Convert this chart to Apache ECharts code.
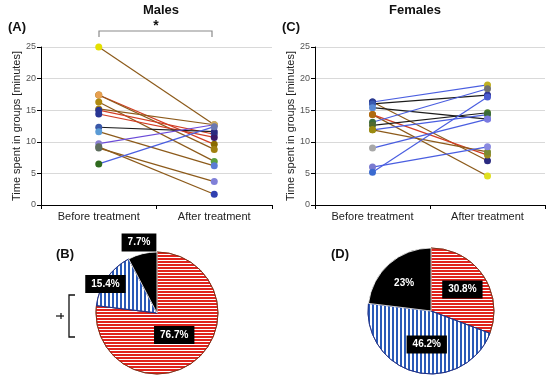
<!DOCTYPE html>
<html><head><meta charset="utf-8">
<script src="https://cdn.jsdelivr.net/npm/echarts@6/dist/echarts.min.js"></script>
<style>html,body{margin:0;padding:0;background:#fff}#c{width:550px;height:378px}</style>
</head><body><div id="c"></div>
<script>
// ---------- data ----------
const categories = ['Before treatment', 'After treatment'];
const yMin = 0, yMax = 25, yStep = 5;

const maleBefore = [25, 17.4, 17.4, 16.3, 15.2, 15.0, 14.4, 12.3, 11.6, 9.7, 9.0, 9.2, 6.5];
const maleAfter  = [12.7, 9.6, 8.8, 6.9, 12.7, 11.2, 10.7, 11.6, 6.2, 12.7, 3.7, 1.7, 12.4];

const femaleBefore = [16.3, 16.3, 16.0, 15.4, 14.3, 14.3, 13.1, 12.6, 11.9, 11.9, 9.0, 6.0, 5.2];
const femaleAfter  = [19.0, 7.0, 17.4, 13.6, 4.6, 7.9, 18.4, 14.6, 8.4, 14.3, 13.6, 9.2, 17.1];

const pieCategories = ['Decreased', 'Increased', 'Unchanged'];
const malePie = [10, 2, 1];
const malePieLabels = ['76.7%', '15.4%', '7.7%'];
const femalePie = [4, 6, 3];
const femalePieLabels = ['30.8%', '46.2%', '23%'];

// ---------- styles ----------
const LC = {brown:'#8c5a1a', red:'#d23c22', black:'#1c1c1c', blue:'#4a5ee0', purple:'#6a4ad8'};
const maleLine = ['brown','red','brown','brown','brown','red','red','black','brown','purple','brown','brown','blue'];
const maleC0 = ['#e4e000','#7a5a00','#e8a050','#b08a10','#b08a10','#283593','#283593','#3a58a8','#5b9bd5','#8a80d0','#5e6e5e','#5e6e5e','#2f6a1e'];
const maleC1 = ['#c8a860','#8a6a00','#a08010','#5aa040','#c8a860','#4a5a9a','#3a1a6a','#2a2a80','#5b7bd5','#c8a860','#8080d8','#3040b0','#6a78b0'];
const femaleLine = ['blue','brown','black','black','brown','red','blue','black','brown','blue','blue','blue','blue'];
const femaleC0 = ['#2a3a90','#2a3a90','#3a5ab0','#5b8ad5','#b06a10','#b06a10','#3a6a3a','#506a30','#9a8a10','#9a8a10','#a8a8a8','#7a7ad0','#3a6ad0'];
const femaleC1 = ['#c0b020','#2a2a80','#2a3090','#7a7ae0','#e0e020','#9a8a20','#707070','#4a7a2a','#7a8a30','#3a6a3a','#7a7ae0','#8a8ae0','#4a5ad0'];

const FF = '"Liberation Sans", Arial, sans-serif';

function makeAxes(gi) {
  return {
    x: {
      type: 'category', gridIndex: gi, data: categories, boundaryGap: true,
      axisLine: {lineStyle: {color: '#000', width: 1}},
      axisTick: {show: true, length: 4, lineStyle: {color: '#000'}},
      axisLabel: {color: '#222', fontSize: 11, fontFamily: FF, margin: 6}
    },
    y: {
      type: 'value', gridIndex: gi, min: yMin, max: yMax, interval: yStep,
      name: 'Time spent in groups [minutes]', nameLocation: 'middle', nameGap: 18,
      nameTextStyle: {color: '#222', fontSize: 11, fontFamily: FF},
      axisLine: {show: true, lineStyle: {color: '#000', width: 1}},
      axisTick: {show: true, length: 4, lineStyle: {color: '#000'}},
      axisLabel: {color: '#555', fontSize: 9, fontFamily: FF, margin: 5},
      splitLine: {show: true, lineStyle: {color: '#d9d9d9', width: 1}}
    }
  };
}
const a0 = makeAxes(0), a1 = makeAxes(1);

function lineSeries(before, after, kinds, c0, c1, gi) {
  return before.map((b, i) => ({
    type: 'line', xAxisIndex: gi, yAxisIndex: gi,
    data: [b, after[i]],
    symbol: 'circle', symbolSize: 7, silent: true, animation: false,
    lineStyle: {color: LC[kinds[i]], width: 1.2},
    itemStyle: {color: (p) => p.dataIndex === 0 ? c0[i] : c1[i], borderWidth: 0}
  }));
}

const redStyle = {color: '#fff', borderColor: '#7a2a10', borderWidth: 0.8,
  decal: {symbol: 'rect', symbolSize: 1, dashArrayX: [1, 0], dashArrayY: [2, 1], color: '#e0231c'}};
const blueStyle = {color: '#fff', borderColor: '#1a2a80', borderWidth: 0.8,
  decal: {symbol: 'rect', symbolSize: 1, dashArrayX: [1.6, 1.2], dashArrayY: [1, 0], color: '#2a5ab8'}};
const blackStyle = {color: '#000', borderColor: '#fff', borderWidth: 0.8};
const sliceStyles = [redStyle, blueStyle, blackStyle];

const labelBox = {show: true, position: 'inside', color: '#fff', fontWeight: 'bold', fontSize: 10,
  fontFamily: FF, backgroundColor: '#000', padding: [4, 6]};

const maleOffsets = [[-5, -3], [-24, -10], [-10, -38]];
const femaleOffsets = [[3, -2], [4, 0], [-4, -2]];

function pieSeries(vals, labels, center, r, offsets) {
  return {
    type: 'pie', center: center, radius: r, startAngle: 90, clockwise: true,
    silent: true, animation: false, labelLine: {show: false},
    data: vals.map((v, i) => ({
      name: pieCategories[i], value: v,
      itemStyle: sliceStyles[i],
      label: Object.assign({}, labelBox, {formatter: labels[i], offset: offsets[i]})
    }))
  };
}

const titleStyle = {fontSize: 13, fontWeight: 'bold', color: '#111', fontFamily: FF};
const option = {
  backgroundColor: '#fff',
  animation: false,
  title: [
    {text: 'Males', left: 156, top: -1, textAlign: 'center', textStyle: titleStyle},
    {text: 'Females', left: 410, top: -1, textAlign: 'center', textStyle: titleStyle},
    {text: '(A)', left: 3, top: 16, textStyle: titleStyle},
    {text: '(C)', left: 277, top: 16, textStyle: titleStyle},
    {text: '(B)', left: 51, top: 243, textStyle: titleStyle},
    {text: '(D)', left: 326, top: 243, textStyle: titleStyle}
  ],
  grid: [
    {left: 41, right: 278, top: 47, bottom: 173},
    {left: 315, right: 5, top: 47, bottom: 173}
  ],
  xAxis: [a0.x, a1.x],
  yAxis: [a0.y, a1.y],
  graphic: [
    {type: 'polyline', shape: {points: [[99, 37], [99, 31], [212, 31], [212, 37]]}, style: {stroke: '#8a8a8a', lineWidth: 1.2, fill: null}},
    {type: 'text', x: 156, y: 26, style: {text: '*', fill: '#111', align: 'center', verticalAlign: 'middle', font: 'bold 14px ' + FF}},
    {type: 'polyline', shape: {points: [[75, 295], [69, 295], [69, 337], [75, 337]]}, style: {stroke: '#111', lineWidth: 1.3, fill: null}},
    {type: 'line', shape: {x1: 56, y1: 316, x2: 64, y2: 316}, style: {stroke: '#111', lineWidth: 1.2}},
    {type: 'line', shape: {x1: 61, y1: 313, x2: 61, y2: 319}, style: {stroke: '#111', lineWidth: 1.2}}
  ],
  series: [
    ...lineSeries(maleBefore, maleAfter, maleLine, maleC0, maleC1, 0),
    ...lineSeries(femaleBefore, femaleAfter, femaleLine, femaleC0, femaleC1, 1),
    pieSeries(malePie, malePieLabels, [157, 313], 61, maleOffsets),
    pieSeries(femalePie, femalePieLabels, [431, 311], 63, femaleOffsets)
  ]
};

const chart = echarts.init(document.getElementById('c'), null, {renderer: 'canvas'});
chart.setOption(option);
</script>
</body></html>
